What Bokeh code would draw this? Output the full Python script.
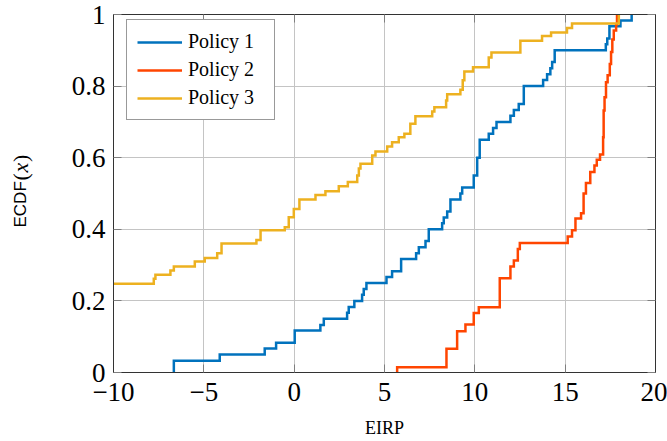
import math
from bokeh.plotting import figure
from bokeh.layouts import row
from bokeh.models import FixedTicker, CustomJSTickFormatter, LinearAxis, Range1d
from bokeh.core.properties import value
from bokeh.embed import file_html
from bokeh.resources import INLINE

# ---- data (EIRP sample points where ECDF jumps, and ECDF level after jump) ----
p1_x = [-6.66, -6.66, -4.12, -1.63, -1.0, 0.03, 1.45, 1.64, 2.93, 3.02, 3.33, 3.76, 3.85, 4.0,
        5.11, 5.42, 5.92, 6.75, 6.9, 7.27, 7.45, 8.19, 8.28, 8.47, 8.65, 9.2, 9.3, 9.94,
        10.13, 10.27, 10.77, 11.01, 11.2, 11.97, 12.16, 12.43, 12.71, 13.78, 14.0, 14.18,
        14.28, 14.42, 17.25, 17.33, 17.45, 18.06, 18.68]
p1_y = [0.0, 0.033, 0.05, 0.067, 0.083, 0.117, 0.133, 0.15, 0.167, 0.183, 0.2, 0.217, 0.233, 0.25,
        0.267, 0.283, 0.317, 0.333, 0.35, 0.367, 0.4, 0.417, 0.433, 0.45, 0.483, 0.5, 0.517, 0.55,
        0.6, 0.65, 0.667, 0.683, 0.7, 0.717, 0.733, 0.75, 0.8, 0.817, 0.833, 0.85,
        0.867, 0.9, 0.917, 0.933, 0.967, 0.983, 1.0]

p2_x = [5.7, 5.7, 8.43, 9.02, 9.48, 9.94, 10.22, 11.38, 11.97, 12.16, 12.38, 12.49, 15.14, 15.38,
        15.57, 15.88, 16.02, 16.15, 16.39, 16.62, 16.75, 16.93, 17.1, 17.13, 17.18, 17.26,
        17.35, 17.47, 17.54, 17.61, 17.69, 17.82, 17.87]
p2_y = [0.0, 0.015, 0.066, 0.115, 0.134, 0.166, 0.182, 0.263, 0.296, 0.313, 0.345, 0.362, 0.38, 0.397,
        0.43, 0.445, 0.5, 0.529, 0.56, 0.578, 0.594, 0.609, 0.657, 0.732, 0.769, 0.811,
        0.83, 0.862, 0.895, 0.93, 0.955, 0.972, 1.0]

p3_x = [-10.0, -7.77, -7.68, -6.85, -6.66, -5.5, -4.95, -4.26, -4.02, -2.09, -1.86, -0.52, -0.30,
        -0.02, 0.29, 1.18, 1.73, 2.47, 2.97, 3.49, 3.58, 3.67, 4.32, 4.5, 5.15, 5.42, 5.79, 6.1,
        6.43, 6.71, 7.64, 7.76, 8.41, 8.47, 9.2, 9.33, 9.42, 9.9, 10.77, 10.92, 12.52, 13.72,
        14.22, 15.1, 15.38, 17.97]
p3_y = [0.248, 0.262, 0.273, 0.285, 0.296, 0.31, 0.32, 0.333, 0.36, 0.37, 0.397, 0.406, 0.434,
        0.457, 0.483, 0.496, 0.506, 0.52, 0.532, 0.55, 0.57, 0.583, 0.606, 0.617, 0.631, 0.643, 0.657, 0.667,
        0.695, 0.716, 0.729, 0.741, 0.76, 0.777, 0.79, 0.816, 0.841, 0.853, 0.88, 0.894, 0.927, 0.94,
        0.95, 0.962, 0.975, 1.0]

series_names = ["Policy 1", "Policy 2", "Policy 3"]
series_colors = ["#0072BD", "#FF4500", "#EDB120"]
x_ticks = [-10, -5, 0, 5, 10, 15, 20]
y_ticks = [0, 0.2, 0.4, 0.6, 0.8, 1]

SERIF = "Liberation Serif"
LABEL_W = 40

p = figure(frame_width=542, frame_height=358,
           x_range=Range1d(-10, 20), y_range=Range1d(0, 1),
           output_backend="svg", toolbar_location=None,
           min_border_left=113 - LABEL_W, min_border_right=12, min_border_top=14, min_border_bottom=69,
           background_fill_color="white", border_fill_color="white")

for xs, ys, name, col in zip([p1_x, p2_x, p3_x], [p1_y, p2_y, p3_y], series_names, series_colors):
    p.step(xs, ys, mode="after", line_color=col, line_width=2.5, legend_label=name,
           line_join="miter")

# axes styling
xfmt = CustomJSTickFormatter(code="return (tick < 0 ? '\u2212' : '') + Math.abs(tick).toFixed(0);")
yfmt = CustomJSTickFormatter(code="var s = tick.toFixed(1); if (s.endsWith('.0')) { s = s.slice(0, -2); } return s;")
p.xaxis.ticker = FixedTicker(ticks=x_ticks)
p.yaxis.ticker = FixedTicker(ticks=y_ticks)
p.xaxis.formatter = xfmt
p.yaxis.formatter = yfmt
for ax in (p.xaxis, p.yaxis):
    ax.major_label_text_font = SERIF
    ax.major_label_text_font_size = "27px"
    ax.major_label_text_color = "black"
    ax.major_tick_in = 8
    ax.major_tick_out = 0
    ax.major_tick_line_color = "#7f7f7f"
    ax.minor_tick_line_color = None
    ax.axis_line_color = "#333333"
p.xaxis.major_label_standoff = 10
p.yaxis.major_label_standoff = 8
p.xaxis.axis_label = "EIRP"
p.xaxis.axis_label_text_font = SERIF
p.xaxis.axis_label_text_font_size = "18px"
p.xaxis.axis_label_text_font_style = "normal"
p.xaxis.axis_label_text_color = "black"
p.xaxis.axis_label_standoff = 14

blank = CustomJSTickFormatter(code="return '';")
top_ax = LinearAxis(ticker=FixedTicker(ticks=x_ticks), formatter=blank, major_tick_in=8, major_tick_out=0,
                    major_tick_line_color="#7f7f7f", minor_tick_line_color=None, axis_line_color="#333333",
                    major_label_standoff=0, major_label_text_font_size="1px")
right_ax = LinearAxis(ticker=FixedTicker(ticks=y_ticks), formatter=blank, major_tick_in=8, major_tick_out=0,
                      major_tick_line_color="#7f7f7f", minor_tick_line_color=None, axis_line_color="#333333",
                      major_label_standoff=0, major_label_text_font_size="1px")
p.add_layout(top_ax, "above")
p.add_layout(right_ax, "right")

p.xgrid.ticker = FixedTicker(ticks=x_ticks)
p.ygrid.ticker = FixedTicker(ticks=y_ticks)
p.grid.grid_line_color = "#c4c4c4"
p.grid.grid_line_width = 1
p.outline_line_color = "#333333"
p.outline_line_width = 1

# legend
lg = p.legend[0]
lg.location = (13, 252)
lg.label_text_font = SERIF
lg.label_text_font_size = "20px"
lg.label_text_color = "black"
lg.glyph_width = 45
lg.glyph_height = 20
lg.label_height = 20
lg.label_width = 76
lg.label_standoff = 6
lg.spacing = 5
lg.padding = 10
lg.margin = 0
lg.border_line_color = "#333333"
lg.border_line_width = 1
lg.background_fill_alpha = 1.0

# narrow strip on the left holding the rotated y-axis title "ECDF(x)" (pixel-scaled ranges)
lab = figure(frame_width=LABEL_W, frame_height=441, x_range=Range1d(0, LABEL_W), y_range=Range1d(0, 441),
             output_backend="svg", toolbar_location=None, min_border=0,
             background_fill_color="white", border_fill_color="white")
lab.axis.visible = False
lab.grid.visible = False
lab.outline_line_color = None
rot = math.pi / 2
BX = 20
BY = 228
lab.text(x=[BX], y=[BY], text=["ECDF"], angle=rot, text_font=value("Liberation Sans"),
         text_font_size="17px", text_align="left", text_baseline="alphabetic", text_color="black")
lab.text(x=[BX], y=[BY + 47], text=["("], angle=rot, text_font=value(SERIF),
         text_font_size="22px", text_align="left", text_baseline="alphabetic", text_color="black")
lab.text(x=[BX], y=[BY + 55], text=["x"], angle=rot, text_font=value(SERIF), text_font_style="italic",
         text_font_size="22px", text_align="left", text_baseline="alphabetic", text_color="black")
lab.text(x=[BX], y=[BY + 65.5], text=[")"], angle=rot, text_font=value(SERIF),
         text_font_size="22px", text_align="left", text_baseline="alphabetic", text_color="black")

layout = row(lab, p, spacing=0)
open("out.html", "w").write(file_html(layout, INLINE))
